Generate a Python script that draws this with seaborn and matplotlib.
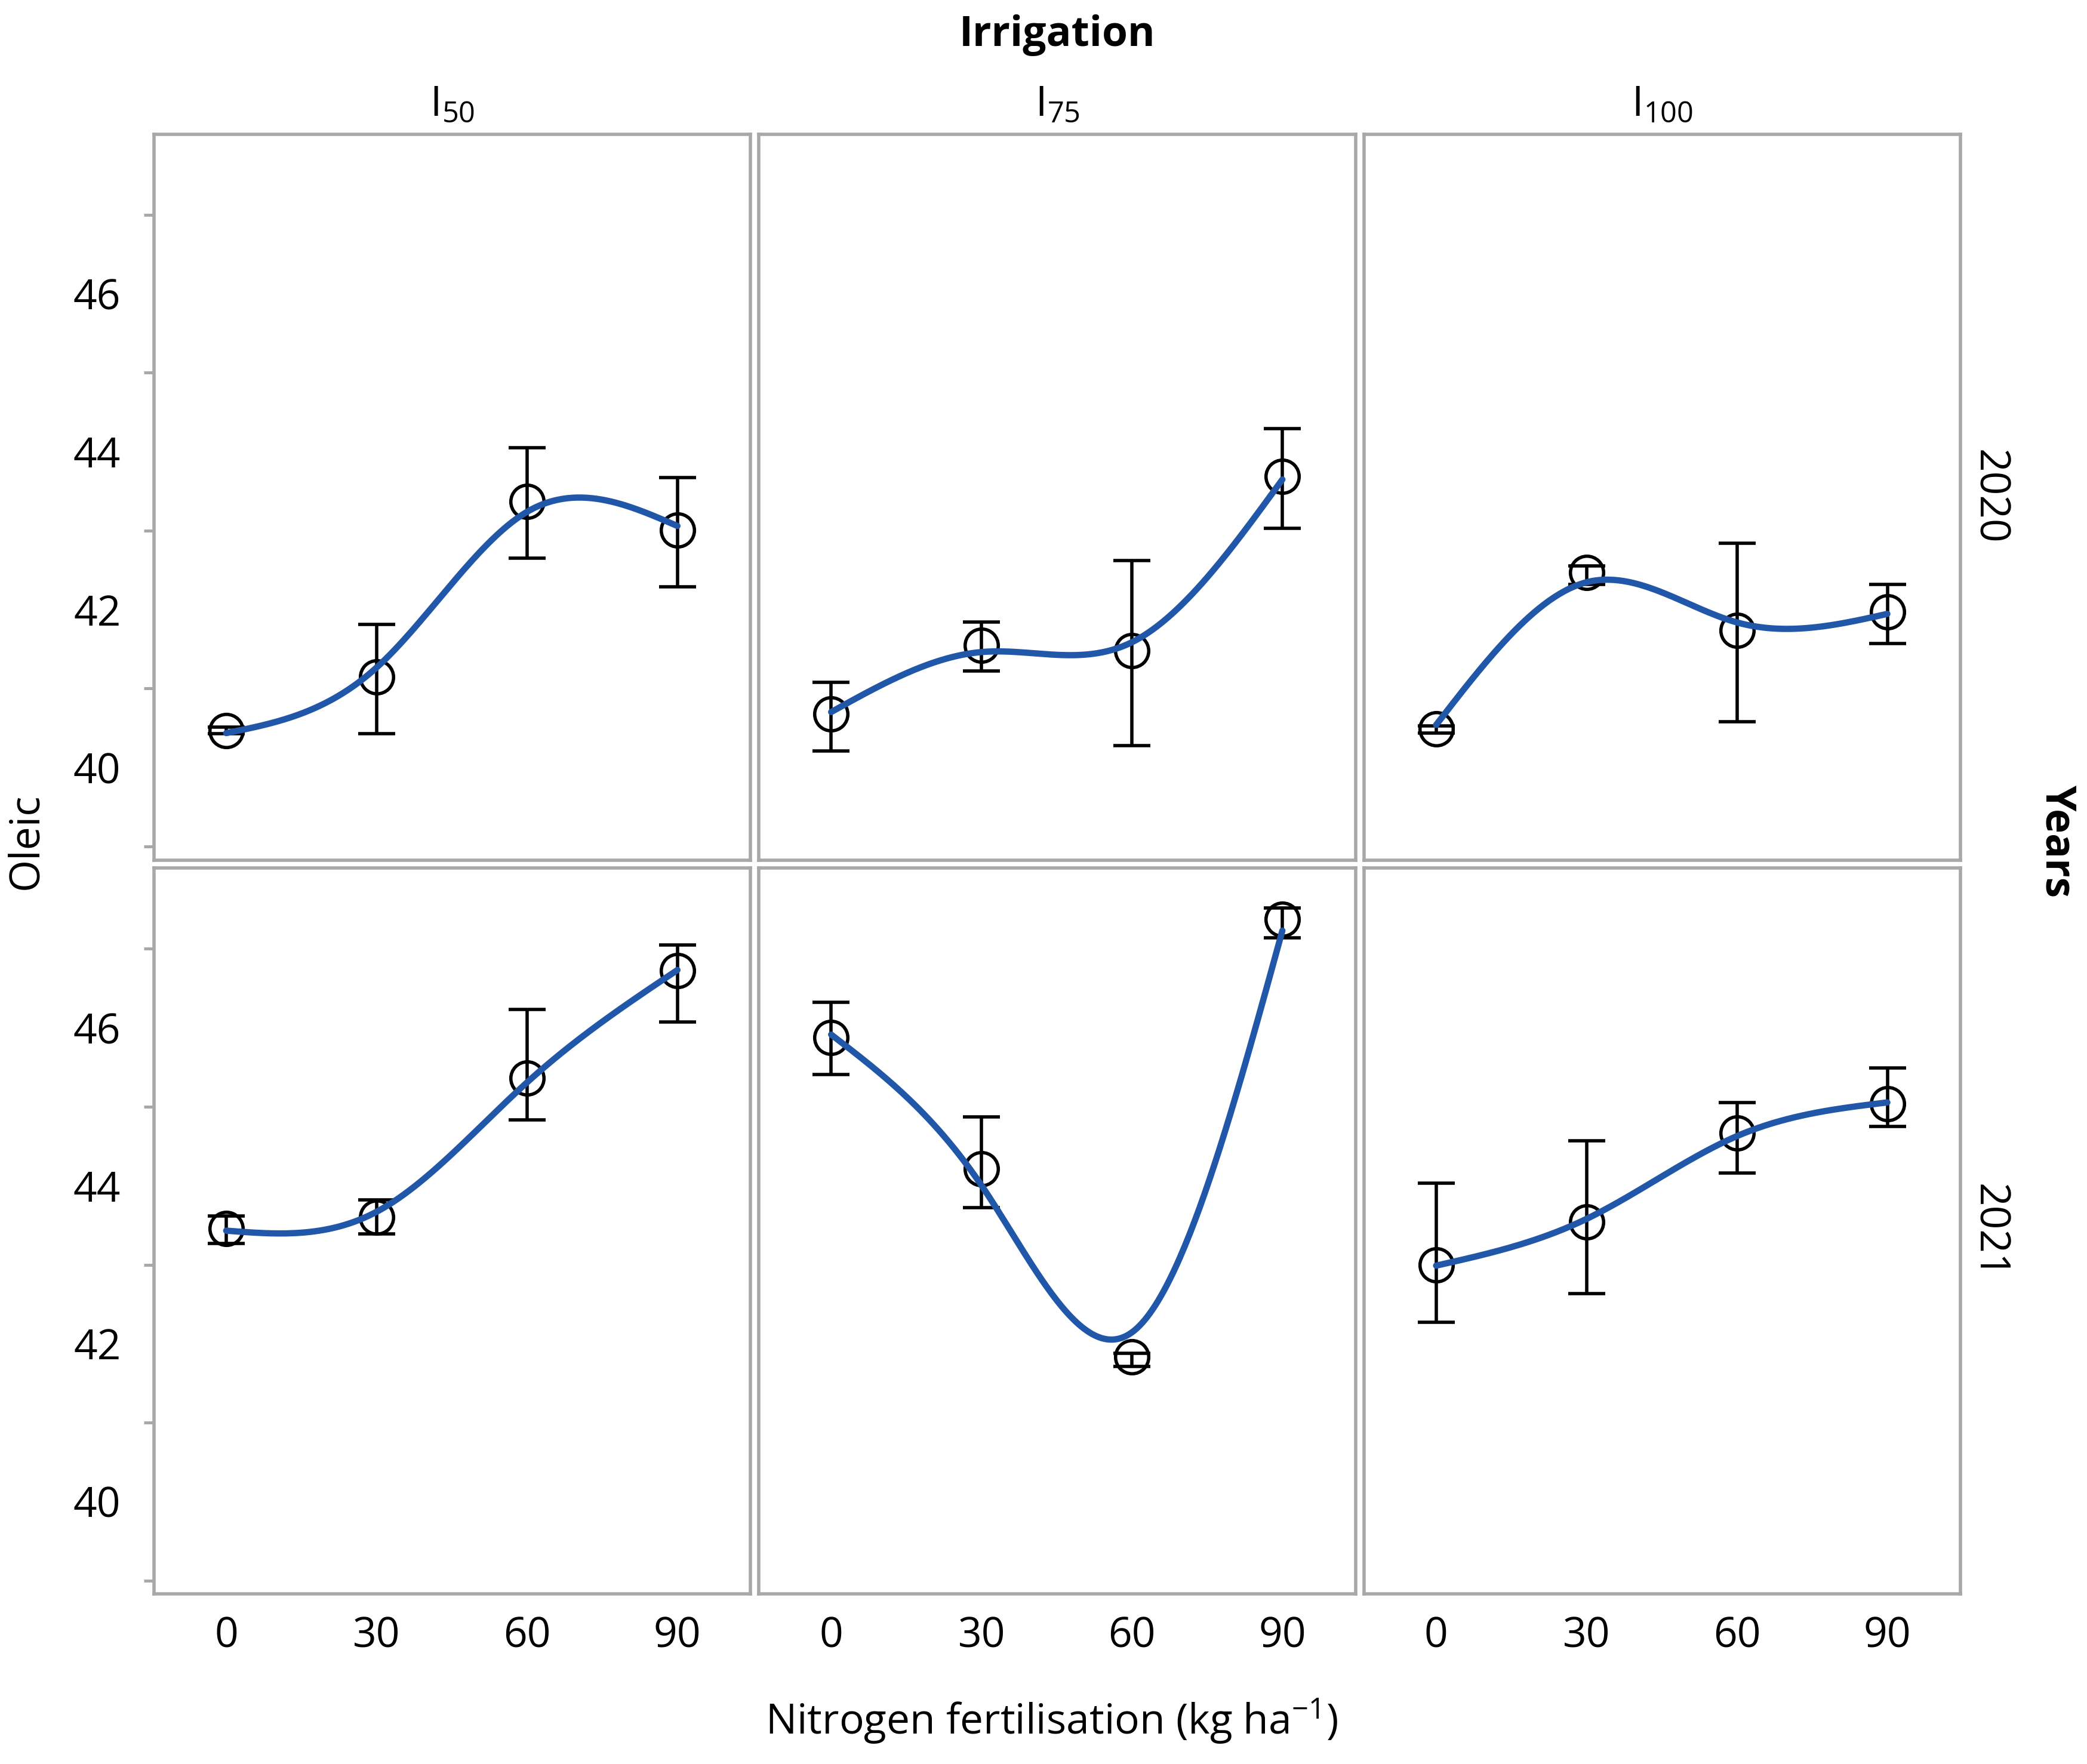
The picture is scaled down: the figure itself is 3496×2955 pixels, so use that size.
import numpy as np
import pandas as pd
import matplotlib
matplotlib.use("Agg")
import matplotlib.pyplot as plt
import seaborn as sns

# ---- data --------------------------------------------------------------
nitrogen = [0, 30, 60, 90]
irrigation = ["I50", "I75", "I100"]
irrigation_labels = ["I$\\mathregular{_{50}}$", "I$\\mathregular{_{75}}$", "I$\\mathregular{_{100}}$"]
years = ["2020", "2021"]

# 2020
oleic_2020_I50 = [40.47, 41.15, 43.37, 43.01]
lo_2020_I50 = [40.43, 40.43, 42.65, 42.29]
hi_2020_I50 = [40.51, 41.81, 44.05, 43.67]

oleic_2020_I75 = [40.68, 41.55, 41.48, 43.69]
lo_2020_I75 = [40.21, 41.22, 40.28, 43.03]
hi_2020_I75 = [41.08, 41.84, 42.62, 44.29]

oleic_2020_I100 = [40.49, 42.47, 41.74, 41.97]
lo_2020_I100 = [40.44, 42.32, 40.58, 41.57]
hi_2020_I100 = [40.53, 42.55, 42.84, 42.32]

# 2021
oleic_2021_I50 = [43.46, 43.60, 45.36, 46.72]
lo_2021_I50 = [43.27, 43.39, 44.83, 46.07]
hi_2021_I50 = [43.62, 43.82, 46.23, 47.05]

oleic_2021_I75 = [45.88, 44.21, 41.83, 47.37]
lo_2021_I75 = [45.41, 43.72, 41.71, 47.14]
hi_2021_I75 = [46.32, 44.87, 41.88, 47.52]

oleic_2021_I100 = [43.00, 43.54, 44.67, 45.04]
lo_2021_I100 = [42.27, 42.63, 44.16, 44.75]
hi_2021_I100 = [44.03, 44.57, 45.05, 45.49]

BLUE = "#2157A8"
GREY = "#A8A8A8"

table = {
    ("2020", "I50"): (oleic_2020_I50, lo_2020_I50, hi_2020_I50),
    ("2020", "I75"): (oleic_2020_I75, lo_2020_I75, hi_2020_I75),
    ("2020", "I100"): (oleic_2020_I100, lo_2020_I100, hi_2020_I100),
    ("2021", "I50"): (oleic_2021_I50, lo_2021_I50, hi_2021_I50),
    ("2021", "I75"): (oleic_2021_I75, lo_2021_I75, hi_2021_I75),
    ("2021", "I100"): (oleic_2021_I100, lo_2021_I100, hi_2021_I100),
}

rows = []
for (yr, irr), (m, lo, hi) in table.items():
    for n, a, b, c in zip(nitrogen, m, lo, hi):
        rows.append({"year": yr, "irrigation": irr, "nitrogen": n,
                     "oleic": a, "lo": b, "hi": c})
df = pd.DataFrame(rows)


def smooth_curve(x, y, lam=340.0, step=0.5):
    """Cubic smoothing spline (penalised 2nd derivative) on a fine grid"""
    grid = np.arange(x.min(), x.max() + step / 2, step)
    n = len(grid)
    W = np.zeros((len(x), n))
    for i, xi in enumerate(x):
        W[i, int(round((xi - grid[0]) / step))] = 1.0
    D = np.diff(np.eye(n), 2, axis=0) / step ** 2
    A = W.T @ W + lam * step * (D.T @ D)
    f = np.linalg.solve(A, W.T @ y)
    return grid, f


def draw_panel(data, **kws):
    ax = plt.gca()
    xs = data["nitrogen"].to_numpy(float)
    ys = data["oleic"].to_numpy(float)
    yerr = [ys - data["lo"].to_numpy(), data["hi"].to_numpy() - ys]
    ax.errorbar(xs, ys, yerr=yerr, fmt="o", ms=20, mfc="none", mec="black",
                mew=2, ecolor="black", elinewidth=2, capsize=11, capthick=2,
                zorder=2)
    gx, gy = smooth_curve(xs, ys)
    sns.lineplot(x=gx, y=gy, ax=ax, color=BLUE, lw=3.8, zorder=3)


sns.set_style("white")
plt.rcParams["font.family"] = ["Open Sans", "DejaVu Sans"]
plt.rcParams["mathtext.fontset"] = "custom"
plt.rcParams["mathtext.rm"] = "Open Sans"
plt.rcParams["text.color"] = "black"
plt.rcParams["xtick.labelcolor"] = "black"
plt.rcParams["ytick.labelcolor"] = "black"

g = sns.FacetGrid(df, row="year", col="irrigation", row_order=years,
                  col_order=irrigation, height=7, aspect=0.82,
                  sharex=True, sharey=True, despine=False)
g.map_dataframe(draw_panel)
g.set_titles(template="", row_template="", col_template="")
g.set_axis_labels("", "")

fig = g.figure
fig.set_size_inches(17.48, 14.775)
fig.subplots_adjust(left=0.0738, right=0.9394, bottom=0.0964, top=0.9239,
                    wspace=0.014, hspace=0.0115)

for (i, j), ax in np.ndenumerate(g.axes):
    ax.set_xlim(-14.4, 104.6)
    ax.set_ylim(38.83, 48.02)
    for sp in ax.spines.values():
        sp.set_color(GREY)
        sp.set_linewidth(2.0)
    ax.set_xticks(nitrogen)
    ax.tick_params(axis="x", length=0, pad=13, labelsize=25,
                   labelcolor="black", labelbottom=(i == 1))
    if j == 0:
        ax.set_yticks([40, 42, 44, 46, 48], labels=["40", "42", "44", "46", ""])
        ax.set_yticks([39, 41, 43, 45, 47], minor=True)
        ax.tick_params(axis="y", which="major", direction="out", length=13,
                       width=1.8, color=GREY, pad=7, labelsize=25,
                       labelcolor="black")
        ax.tick_params(axis="y", which="minor", direction="out", length=6,
                       width=1.8, color=GREY, left=True)
    else:
        ax.tick_params(axis="y", which="both", left=False, labelleft=False)

# strip labels
for j, lab in enumerate(irrigation_labels):
    ax = g.axes[0, j]
    pos = ax.get_position()
    fig.text((pos.x0 + pos.x1) / 2, 0.9405, lab, ha="center", va="center",
             fontsize=25, color="black")
for i, yr in enumerate(years):
    ax = g.axes[i, 2]
    pos = ax.get_position()
    fig.text(0.9528, (pos.y0 + pos.y1) / 2, yr, ha="center", va="center",
             rotation=270, fontsize=25, color="black")

fig.text(0.5066, 0.980, "Irrigation", ha="center", va="center",
         fontsize=25, fontweight="bold", color="black")
fig.text(0.9854, 0.523, "Years", ha="center", va="center", rotation=270,
         fontsize=25, fontweight="bold", color="black")
fig.text(0.0128, 0.523, "Oleic", ha="center", va="center", rotation=90,
         fontsize=25, color="black")
fig.text(0.504, 0.0244, "Nitrogen fertilisation (kg ha$\\mathregular{^{-1}}$)",
         ha="center", va="center", fontsize=25, color="black")

fig.savefig("out.png", dpi=200)
